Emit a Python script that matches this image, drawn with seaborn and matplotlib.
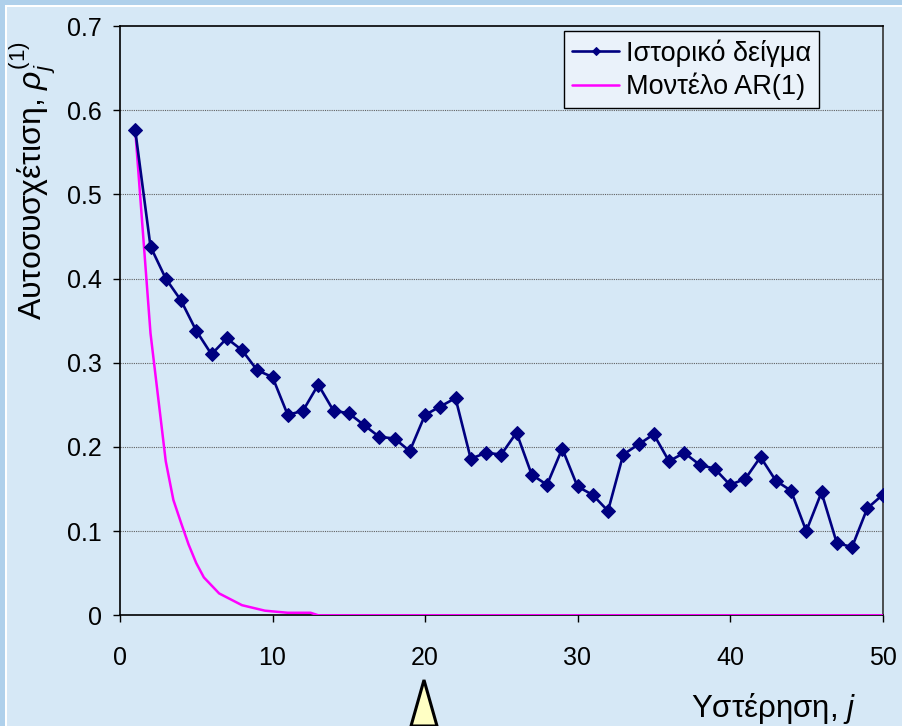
import matplotlib
matplotlib.use("Agg")
import matplotlib.pyplot as plt
from matplotlib.patches import Polygon, Rectangle
import seaborn as sns
import pandas as pd

# Sample autocorrelation of the historical record, lags 1..50
hist_lag = list(range(1, 51))
hist_acf = [0.576, 0.438, 0.400, 0.374, 0.338, 0.310, 0.329, 0.315, 0.291, 0.283,
            0.238, 0.243, 0.274, 0.243, 0.240, 0.226, 0.212, 0.210, 0.195, 0.238,
            0.248, 0.258, 0.186, 0.193, 0.191, 0.217, 0.167, 0.155, 0.198, 0.153,
            0.143, 0.124, 0.191, 0.203, 0.215, 0.183, 0.193, 0.179, 0.174, 0.155,
            0.162, 0.188, 0.160, 0.148, 0.100, 0.146, 0.086, 0.081, 0.127, 0.143]

# AR(1) model autocorrelation curve
ar_lag = [1, 2, 3, 3.5, 4, 4.5, 5, 5.5, 6.5, 8, 9.5, 11, 12.5, 13, 50]
ar_acf = [0.576, 0.335, 0.183, 0.137, 0.110, 0.084, 0.062, 0.045, 0.026,
          0.012, 0.0055, 0.003, 0.003, 0.0, 0.0]

x_ticks = [0, 10, 20, 30, 40, 50]
y_ticks = [0, 0.1, 0.2, 0.3, 0.4, 0.5, 0.6, 0.7]

hist_df = pd.DataFrame({"lag": hist_lag, "acf": hist_acf})
ar_df = pd.DataFrame({"lag": ar_lag, "acf": ar_acf})

sns.set_style("white")
plt.rcParams["font.family"] = ["Liberation Sans", "DejaVu Sans"]
plt.rcParams["mathtext.fontset"] = "custom"
plt.rcParams["mathtext.rm"] = "Liberation Sans"
plt.rcParams["mathtext.it"] = "Liberation Sans:italic"
plt.rcParams["text.color"] = "black"
plt.rcParams["axes.labelcolor"] = "black"

OUTER = "#afd0eb"
INNER = "#d6e8f6"
NAVY = "#000080"
MAGENTA = "#ff00ff"

fig = plt.figure(figsize=(9.02, 7.26), dpi=100)
fig.patch.set_facecolor(OUTER)
# inner panel with a thin white rim on the top/left edge
fig.patches.append(Rectangle((5 / 902, 0), 1, 1 - 5 / 726, transform=fig.transFigure,
                             facecolor="white", edgecolor="none", zorder=-2))
fig.patches.append(Rectangle((7 / 902, 0), 1, 1 - 7 / 726, transform=fig.transFigure,
                             facecolor=INNER, edgecolor="none", zorder=-1))

ax = fig.add_axes([120 / 902, 1 - 615.3 / 726, 762.5 / 902, 589.3 / 726])
ax.set_zorder(2)
ax.set_facecolor(INNER)

sns.lineplot(data=hist_df, x="lag", y="acf", ax=ax, color=NAVY, linewidth=1.9,
             marker="D", markersize=6.8, markeredgecolor=NAVY, markerfacecolor=NAVY,
             label="Ιστορικό δείγμα", zorder=4)
sns.lineplot(data=ar_df, x="lag", y="acf", ax=ax, color=MAGENTA, linewidth=1.8,
             label="Μοντέλο AR(1)", zorder=3)

ax.set_xlim(0, 50)
ax.set_ylim(0, 0.7)
ax.set_xticks(x_ticks)
ax.set_yticks(y_ticks)
ax.set_xticklabels([str(t) for t in x_ticks])
ax.set_yticklabels(["0"] + [f"{t:.1f}" for t in y_ticks[1:]])
ax.tick_params(axis="both", direction="out", length=5, width=1, colors="black",
               labelsize=18)
ax.tick_params(axis="x", pad=17)
ax.tick_params(axis="y", pad=8)
ax.xaxis.set_ticks_position("bottom")
ax.yaxis.set_ticks_position("left")

for yv in y_ticks[1:-1]:
    ax.axhline(yv, color="#606060", linewidth=0.8, linestyle=(0, (1, 1)), zorder=1)

for side, col in [("left", "black"), ("bottom", "black"), ("top", "black"), ("right", "#333333")]:
    ax.spines[side].set_visible(True)
    ax.spines[side].set_color(col)
    ax.spines[side].set_linewidth(1.2)

ax.set_xlabel("")
ax.set_ylabel("")

leg = ax.legend(loc="upper left", bbox_to_anchor=(0.582, 0.9915), fontsize=19.5,
                frameon=True, fancybox=False, framealpha=1, facecolor="#eaf2fa",
                edgecolor="black", borderpad=0.3, labelspacing=0.22,
                handlelength=1.75, handletextpad=0.25, markerscale=0.6,
                borderaxespad=0)
leg.get_frame().set_linewidth(1.0)

fig.text(33 / 902, 1 - 181 / 726, "Αυτοσυσχέτιση, $\\rho_j^{(1)}$", rotation=90,
         ha="center", va="center", fontsize=23)
fig.text(856 / 902, 1 - 708 / 726, "Υστέρηση, $j$", ha="right", va="center",
         fontsize=22.5)

# pointer arrow below the axis
fig.patches.append(Polygon([(411 / 902, 0), (424 / 902, 1 - 680 / 726), (437 / 902, 0)],
                           closed=True, transform=fig.transFigure, facecolor="#ffffc4",
                           edgecolor="black", linewidth=2.2, zorder=5))

fig.savefig("out.png", dpi=100, facecolor=fig.get_facecolor())
